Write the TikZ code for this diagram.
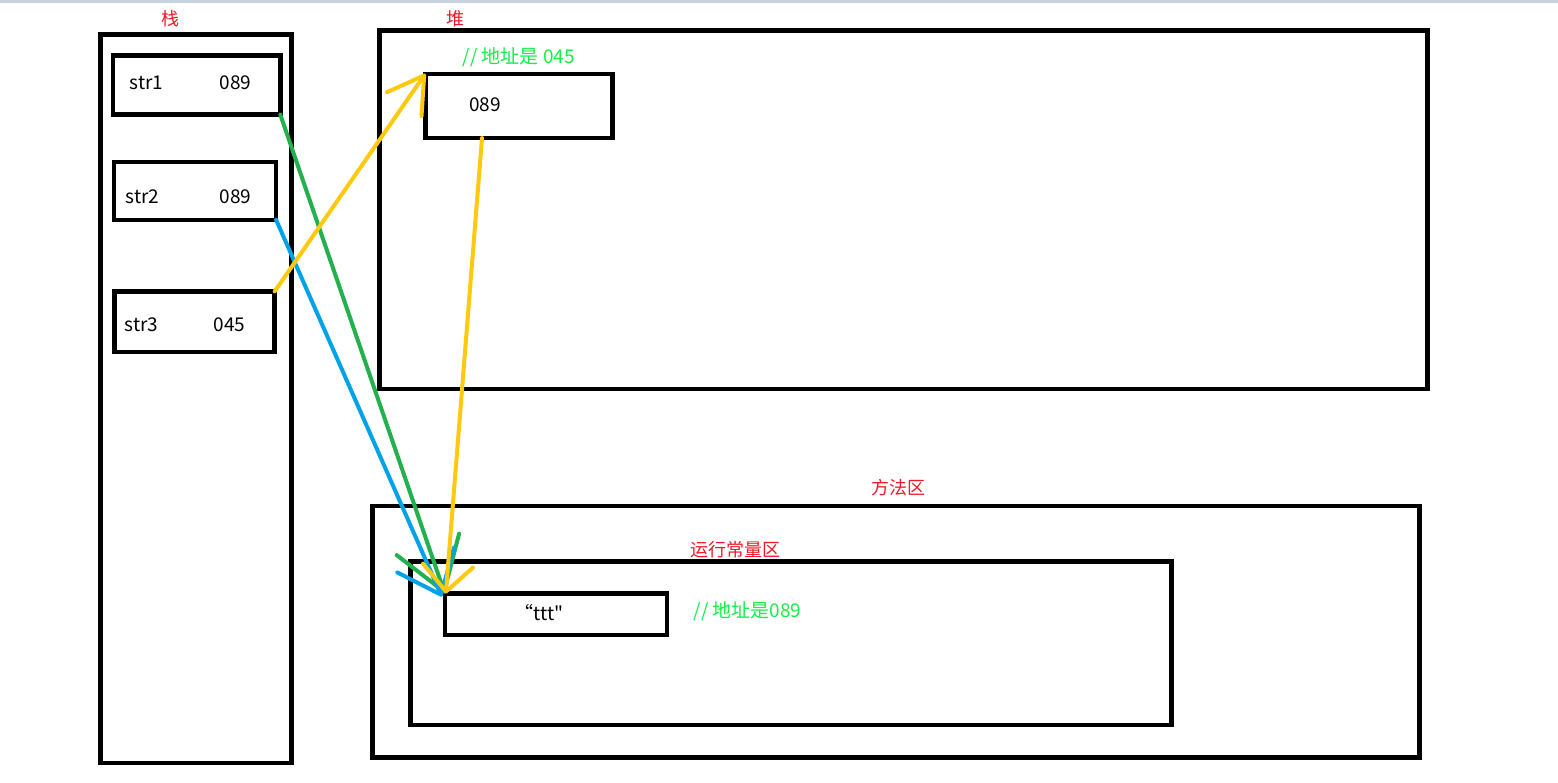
\documentclass[tikz,border=0pt]{standalone}
\usepackage{fontspec}
\setmainfont{Noto Sans CJK SC}[Ligatures=TeXOff]
\usepackage{tikz}
\usepackage{xcolor}
\usetikzlibrary{arrows.meta}

\definecolor{zhred}{RGB}{240,24,40}
\definecolor{addrgreen}{RGB}{20,240,70}
\definecolor{pgreen}{RGB}{34,177,76}
\definecolor{pblue}{RGB}{0,162,232}
\definecolor{pyellow}{RGB}{255,201,14}
\definecolor{topbar}{RGB}{200,209,222}

\begin{document}
\begin{tikzpicture}[x=1pt, y=-1pt,
        box/.style={draw, rectangle, line width=4.5pt, outer sep=0pt, inner sep=0pt},
        txt/.style={inner sep=0pt, anchor=base, font=\fontsize{19}{19}\selectfont},
        area/.style={inner sep=0pt, text=zhred, font=\fontsize{18}{18}\selectfont},
        addr/.style={inner sep=0pt, anchor=base, text=addrgreen, font=\fontsize{19}{19}\selectfont},
        pointer/.style 2 args={line width=4pt, line cap=round, -{Straight Barb[length=#1, width=#2, round]}}]
        \useasboundingbox[fill=white] (0, 0) rectangle (1558, 782);
        \fill[topbar] (0, 0) rectangle (1558, 2.5);

        \node (stack)   at (196.0, 398.8) [box, minimum width=191, minimum height=728.5] {};
        \node (str1)    at (196.7,  85.0) [box, minimum width=167.3, minimum height=59.4] {};
        \node (str2)    at (194.9, 190.9) [box, minimum width=162.3, minimum height=57.7] {};
        \node (str3)    at (194.7, 321.7) [box, minimum width=160, minimum height=60.7] {};
        \node (heap)    at (903.5, 209.8) [box, minimum width=1048, minimum height=358.5] {};
        \node (heapval) at (519.0, 105.9) [box, minimum width=187.4, minimum height=64.3] {};
        \node (method)  at (896.1, 631.8) [box, minimum width=1047.2, minimum height=251.5] {};
        \node (pool)    at (791.0, 643.3) [box, minimum width=761, minimum height=163.5] {};
        \node (ttt)     at (555.9, 614.2) [box, minimum width=222.2, minimum height=41.3] {};

        \node (stacklbl)  at (170.0,  18.3) [area] {栈};
        \node (heaplbl)   at (455.0,  18.3) [area] {堆};
        \node (methodlbl) at (898.3, 487.3) [area] {方法区};
        \node (poollbl)   at (735.8, 549.3) [area] {运行常量区};

        \node (s1name) at (146.7,  89.3) [txt] {str1};
        \node (s1val)  at (235.5,  89.3) [txt] {089};
        \node (s2name) at (142.5, 203.3) [txt] {str2};
        \node (s2val)  at (235.5, 203.3) [txt] {089};
        \node (s3name) at (141.7, 331.7) [txt] {str3};
        \node (s3val)  at (229.3, 331.7) [txt] {045};
        \node (hvval)  at (485.2, 111.7) [txt] {089};
        \node (tttval) at (539.2, 620.0) [txt] {“ttt"};

        \node (heapaddr) at (518.7,  63.3) [addr] {// 地址是 045};
        \node (tttaddr)  at (747.5, 617.3) [addr] {// 地址是089};

        \draw[pointer={50pt}{66pt}, pgreen] (str1.south east) -- (ttt.north west);
        \draw[pointer={38pt}{62pt}, pblue] (str2.south east) -- ([xshift=-3pt, yshift=-3pt]ttt.north west);
        \draw[pointer={35pt}{42pt}, pyellow] (str3.north east) -- (heapval.north west);
        \draw[pointer={26pt}{50pt}, pyellow] ([xshift=-37pt]heapval.south) -- ([xshift=1pt]ttt.north west);
    \end{tikzpicture}
\end{document}
